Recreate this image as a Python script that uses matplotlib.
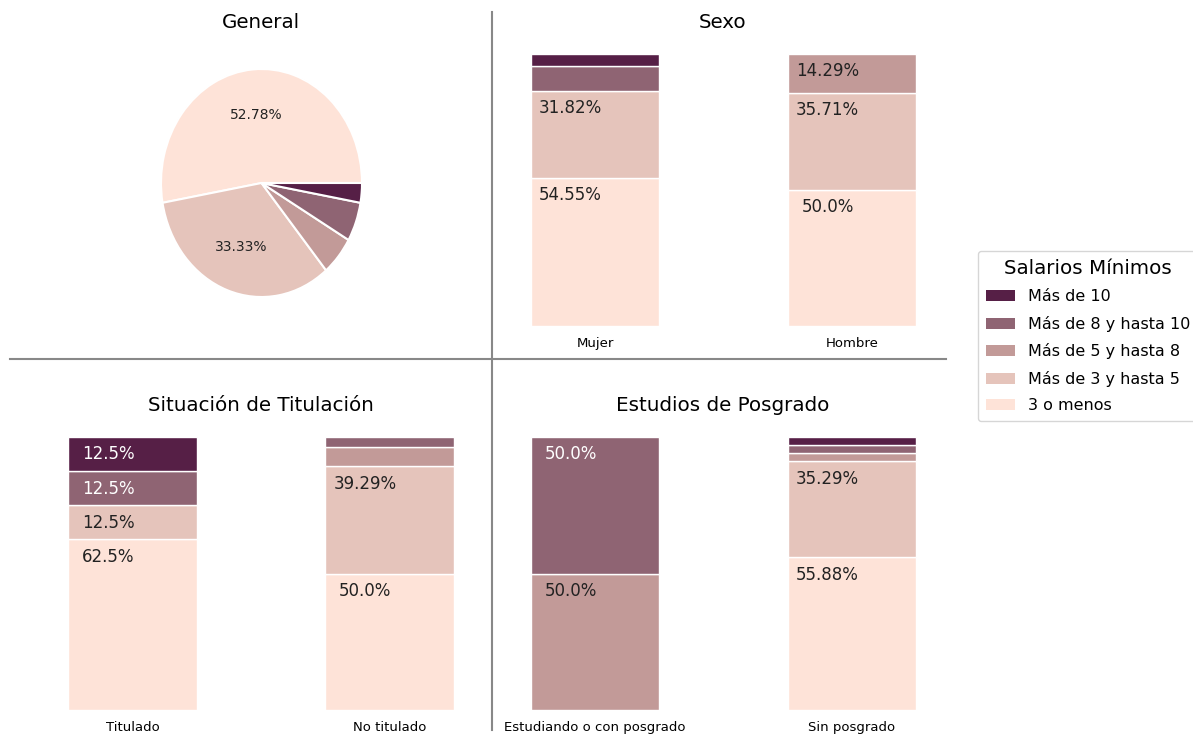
import matplotlib
matplotlib.use('Agg')
import matplotlib.pyplot as plt
from matplotlib.lines import Line2D
from matplotlib.patches import Patch

# salary bands, from top of stack to bottom
bands = ['Más de 10', 'Más de 8 y hasta 10', 'Más de 5 y hasta 8',
         'Más de 3 y hasta 5', '3 o menos']
colors = ['#561f46', '#8f6473', '#c29a98', '#e5c4bb', '#fee3d8']
text_colors = ['white', 'white', '#222222', '#222222', '#222222']

# General (pie), order: 3 o menos -> Más de 10
general = [52.78, 33.33, 5.56, 5.55, 2.78]

# stacked bars, values listed bottom -> top (3 o menos ... Más de 10)
sexo_labels = ['Mujer', 'Hombre']
sexo = [[54.55, 31.82, 0.0, 9.09, 4.55],
        [50.0, 35.71, 14.29, 0.0, 0.0]]

titul_labels = ['Titulado', 'No titulado']
titul = [[62.5, 12.5, 0.0, 12.5, 12.5],
         [50.0, 39.29, 7.14, 3.57, 0.0]]

posg_labels = ['Estudiando o con posgrado', 'Sin posgrado']
posg = [[0.0, 0.0, 50.0, 50.0, 0.0],
        [55.88, 35.29, 2.94, 2.94, 2.94]]

W, H = 1193, 736


def px_axes(fig, left, top, right, bottom):
    return fig.add_axes([left / W, 1 - bottom / H, (right - left) / W, (bottom - top) / H])


def stacked(ax, names, data):
    bottom_colors = colors[::-1]
    bottom_text = text_colors[::-1]
    for i, vals in enumerate(data):
        base = 0
        for j, v in enumerate(vals):
            if v > 0:
                ax.bar(i, v, bottom=base, width=0.5, color=bottom_colors[j],
                       edgecolor='white', linewidth=1)
                if v >= 10:
                    ax.text(i - 0.095, base + v - 6.4, f'{v}%', ha='center', va='center',
                            fontsize=12, color=bottom_text[j])
            base += v
    ax.set_xlim(-0.4, 1.4)
    ax.set_ylim(0, 100)
    ax.set_xticks([0, 1])
    ax.set_xticklabels(names, fontsize=9.5)
    ax.tick_params(axis='x', length=0, pad=8)
    ax.set_yticks([])
    for s in ax.spines.values():
        s.set_visible(False)


fig = plt.figure(figsize=(W / 100, H / 100), dpi=100)

# pie
ax_pie = px_axes(fig, 161, 69, 362, 297)
ax_pie.pie(general, colors=colors[::-1], startangle=0, counterclock=True,
           autopct=lambda p: f'{p:.2f}%' if p > 10 else '',
           textprops={'fontsize': 10, 'color': '#222222'},
           wedgeprops={'edgecolor': 'white', 'linewidth': 1.5})
ax_pie.set_aspect('auto')
ax_pie.set_xlim(-1, 1)
ax_pie.set_ylim(-1, 1)

ax_sexo = px_axes(fig, 492.2, 54, 954.8, 326)
stacked(ax_sexo, sexo_labels, sexo)

ax_tit = px_axes(fig, 29.7, 437, 492.3, 710)
stacked(ax_tit, titul_labels, titul)

ax_pos = px_axes(fig, 492.2, 437, 954.8, 710)
stacked(ax_pos, posg_labels, posg)

# titles
for (x, y, t) in [(261, 22, 'General'), (723, 22, 'Sexo'),
                  (261, 406, 'Situación de Titulación'), (723, 406, 'Estudios de Posgrado')]:
    fig.text(x / W, 1 - y / H, t, ha='center', va='center', fontsize=14.3)

# dividers
fig.add_artist(Line2D([492 / W, 492 / W], [1 - 12 / H, 1 - 730 / H],
                      color='#888888', linewidth=1.5))
fig.add_artist(Line2D([10 / W, 946 / W], [1 - 359 / H, 1 - 359 / H],
                      color='#888888', linewidth=1.5))

handles = [Patch(facecolor=c, edgecolor='none') for c in colors]
fig.legend(handles, bands, title='Salarios Mínimos', loc='upper left',
           bbox_to_anchor=(978 / W, 1 - 251 / H), fontsize=11.5, title_fontsize=14.3,
           handlelength=1.8, labelspacing=0.72, borderaxespad=0, borderpad=0.5)

fig.savefig('out.png', dpi=100)
